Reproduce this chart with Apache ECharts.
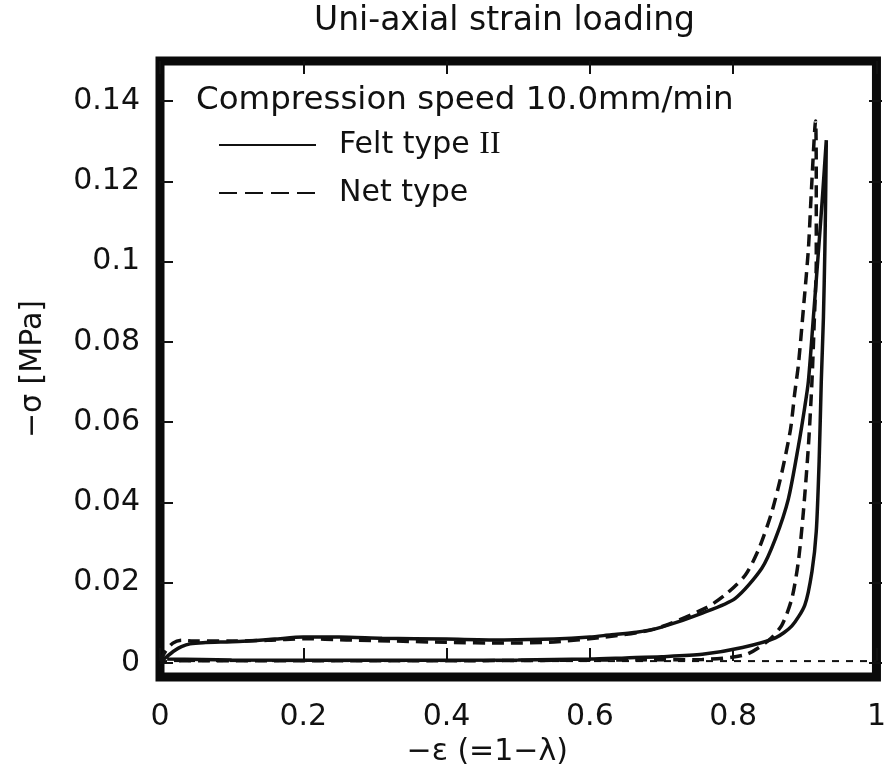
<!DOCTYPE html>
<html>
<head>
<meta charset="utf-8">
<script src="https://cdn.jsdelivr.net/npm/echarts@6/dist/echarts.min.js"></script>
<style>
html, body { margin: 0; padding: 0; background: #fff; }
#chart { width: 889px; height: 772px; }
</style>
</head>
<body>
<div id="chart"></div>
<script>
// axis ranges and tick steps
var xRange = [0, 1];
var xStep = 0.2;
var yRange = [-0.004, 0.15];
var yTickRange = [0, 0.14];
var yStep = 0.02;

// Felt type II : loading branch followed by unloading branch
var feltX = [0.000, 0.005, 0.010, 0.020, 0.030, 0.042, 0.060, 0.110, 0.160, 0.200,
             0.250, 0.310, 0.400, 0.480, 0.550, 0.600, 0.630, 0.665, 0.700, 0.757,
             0.803, 0.840, 0.859, 0.877, 0.891, 0.900, 0.905, 0.912, 0.918, 0.925,
             0.930,
             0.929, 0.928, 0.926, 0.923, 0.920, 0.916, 0.910, 0.900, 0.882, 0.859,
             0.813, 0.757, 0.700, 0.650, 0.600, 0.500, 0.300, 0.100, 0.010];
var feltY = [0.0000, 0.0004, 0.0012, 0.0026, 0.0036, 0.0043, 0.0046, 0.0049, 0.0055, 0.0060,
             0.0060, 0.0057, 0.0055, 0.0053, 0.0055, 0.0060, 0.0066, 0.0072, 0.0085, 0.0120,
             0.0157, 0.0232, 0.0306, 0.0405, 0.0537, 0.0636, 0.0700, 0.0860, 0.1000, 0.1170,
             0.1302,
             0.1150, 0.1030, 0.0860, 0.0700, 0.0500, 0.0324, 0.0224, 0.0140, 0.0088, 0.0058,
             0.0034, 0.0017, 0.0011, 0.0008, 0.0005, 0.0003, 0.0002, 0.0003, 0.0005];

// Net type : loading branch followed by unloading branch
var netX = [0.000, 0.008, 0.018, 0.030, 0.050, 0.100, 0.150, 0.200, 0.260, 0.330,
            0.400, 0.480, 0.550, 0.620, 0.690, 0.762, 0.789, 0.817, 0.836, 0.854,
            0.868, 0.880, 0.886, 0.891, 0.898, 0.905, 0.909, 0.915,
            0.916, 0.916, 0.913, 0.910, 0.905, 0.898, 0.891, 0.882, 0.868, 0.849,
            0.817, 0.757, 0.665, 0.400, 0.020];
var netY = [0.0000, 0.0025, 0.0045, 0.0052, 0.0050, 0.0050, 0.0052, 0.0056, 0.0053, 0.0050,
            0.0047, 0.0045, 0.0048, 0.0060, 0.0080, 0.0133, 0.0166, 0.0215, 0.0281, 0.0373,
            0.0472, 0.0579, 0.0671, 0.0740, 0.0880, 0.1030, 0.1170, 0.1350,
            0.1200, 0.1000, 0.0840, 0.0700, 0.0537, 0.0373, 0.0249, 0.0157, 0.0090, 0.0051,
            0.0016, 0.0004, 0.0003, 0.0001, 0.0001];

// zero reference line
var baseX = [0, 1];
var baseY = [0, 0];

function pairs(xs, ys) {
    return xs.map(function (x, i) { return [x, ys[i]]; });
}

var FONT = 'DejaVu Sans';
var INK = '#111';

var chart = echarts.init(document.getElementById('chart'));

// plot frame (pixels)
var G = { left: 160, right: 7, top: 61, bottom: 93 };
var H = 772;
var plotH = H - G.top - G.bottom;
var pxPerUnit = plotH / (yRange[1] - yRange[0]);
var zeroPx = H - G.bottom - (yTickRange[0] - yRange[0]) * pxPerUnit;
var topTickPx = zeroPx - (yTickRange[1] - yTickRange[0]) * pxPerUnit;

var tickStyle = { inside: true, length: 13, lineStyle: { color: INK, width: 2 } };
var hidden = { show: false };

var option = {
    backgroundColor: '#fff',
    animation: false,
    title: [{
        text: 'Uni-axial strain loading',
        left: 314,
        top: 5,
        padding: 0,
        textStyle: { fontFamily: FONT, fontSize: 33, fontWeight: 'normal', color: INK }
    }, {
        text: 'Compression speed 10.0mm/min',
        left: 196,
        top: 84,
        padding: 0,
        textStyle: { fontFamily: FONT, fontSize: 32.5, fontWeight: 'normal', color: INK }
    }],
    legend: {
        data: [
            { name: 'Felt type II' },
            { name: 'Net type', lineStyle: { type: [18, 8] } }
        ],
        orient: 'vertical',
        left: 218,
        top: 128,
        padding: 0,
        itemWidth: 97,
        itemHeight: 14,
        itemGap: 14,
        itemStyle: { opacity: 0 },
        formatter: function (name) {
            return '{g|}' + name.replace('II', '{r|II}');
        },
        textStyle: {
            fontFamily: FONT, fontSize: 30, lineHeight: 34, color: INK,
            rich: {
                g: { width: 18 },
                r: { fontFamily: 'Liberation Serif', fontSize: 32, color: INK }
            }
        }
    },
    grid: [{
        left: G.left, right: G.right, top: G.top, bottom: G.bottom,
        show: true,
        borderColor: '#0a0a0a',
        borderWidth: 9
    }, {
        // same x extent, y extent limited to the labelled 0..0.14 span
        left: G.left, right: G.right, top: topTickPx, bottom: H - zeroPx
    }],
    xAxis: [{
        gridIndex: 0,
        type: 'value',
        min: xRange[0], max: xRange[1], interval: xStep,
        position: 'bottom',
        axisLine: hidden,
        axisTick: tickStyle,
        splitLine: hidden,
        axisLabel: { fontFamily: FONT, fontSize: 30, color: INK, margin: 25 },
        name: '\u2212\u03b5 (=1\u2212\u03bb)',
        nameLocation: 'middle',
        nameGap: 52,
        nameTextStyle: { fontFamily: FONT, fontSize: 30, color: INK, padding: [0, 62, 0, 0] }
    }, {
        gridIndex: 0,
        type: 'value',
        min: xRange[0], max: xRange[1], interval: xStep,
        position: 'top',
        axisLine: hidden,
        axisTick: tickStyle,
        splitLine: hidden,
        axisLabel: hidden
    }, {
        gridIndex: 1,
        type: 'value',
        min: xRange[0], max: xRange[1],
        show: false
    }],
    yAxis: [{
        gridIndex: 0,
        type: 'value',
        min: yRange[0], max: yRange[1],
        position: 'left',
        axisLine: hidden,
        axisTick: hidden,
        splitLine: hidden,
        axisLabel: hidden,
        name: '\u2212\u03c3 [MPa]',
        nameLocation: 'middle',
        nameRotate: 90,
        nameGap: 112,
        nameTextStyle: { fontFamily: FONT, fontSize: 30, color: INK }
    }, {
        gridIndex: 1,
        type: 'value',
        min: yTickRange[0], max: yTickRange[1], interval: yStep,
        position: 'left',
        axisLine: hidden,
        axisTick: tickStyle,
        splitLine: hidden,
        axisLabel: { fontFamily: FONT, fontSize: 30, color: INK, margin: 20 }
    }, {
        gridIndex: 1,
        type: 'value',
        min: yTickRange[0], max: yTickRange[1], interval: yStep,
        position: 'right',
        axisLine: hidden,
        axisTick: tickStyle,
        splitLine: hidden,
        axisLabel: hidden
    }],
    series: [{
        name: 'baseline',
        type: 'line',
        xAxisIndex: 0, yAxisIndex: 0,
        data: pairs(baseX, baseY),
        symbol: 'none',
        silent: true,
        z: 1,
        lineStyle: { color: INK, width: 2, type: [7, 7] }
    }, {
        name: 'Felt type II',
        type: 'line',
        xAxisIndex: 0, yAxisIndex: 0,
        data: pairs(feltX, feltY),
        symbol: 'none',
        smooth: 0.25,
        z: 3,
        lineStyle: { color: INK, width: 3.5, type: 'solid' },
        itemStyle: { color: INK }
    }, {
        name: 'Net type',
        type: 'line',
        xAxisIndex: 0, yAxisIndex: 0,
        data: pairs(netX, netY),
        symbol: 'none',
        smooth: 0.25,
        z: 2,
        lineStyle: { color: INK, width: 3.5, type: [12, 7] },
        itemStyle: { color: INK }
    }]
};

chart.setOption(option);
</script>
</body>
</html>
